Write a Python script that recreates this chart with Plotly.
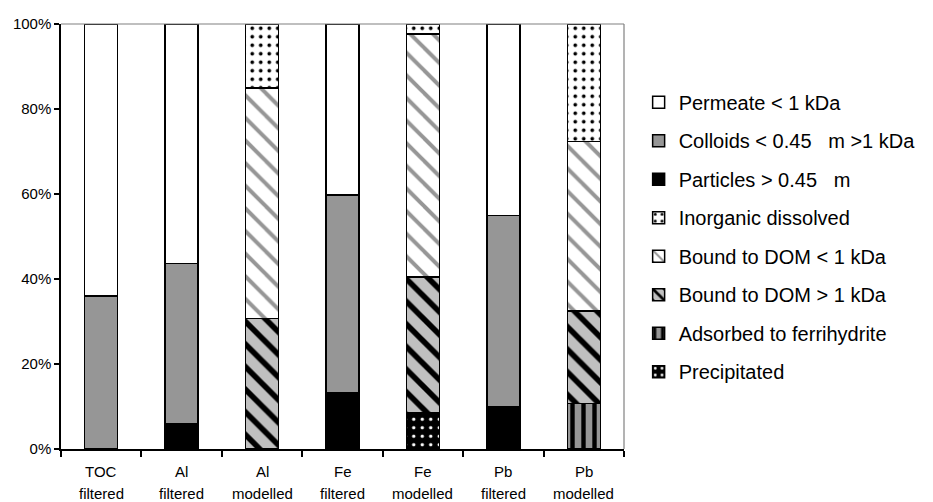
import plotly.graph_objects as go

# ---- data ----
cat_top = ["TOC", "Al", "Al", "Fe", "Fe", "Pb", "Pb"]
cat_bottom = ["filtered", "filtered", "modelled", "filtered", "modelled", "filtered", "modelled"]

permeate = [64.0, 56.3, None, 40.2, None, 45.1, None]
colloids = [36.0, 37.7, None, 46.5, None, 44.9, None]
particles = [None, 6.0, None, 13.3, None, 10.0, None]
inorganic = [None, None, 15.0, None, 2.4, None, 27.7]
dom_lt1 = [None, None, 54.3, None, 57.1, None, 39.8]
dom_gt1 = [None, None, 30.7, None, 31.9, None, 21.8]
adsorbed = [None, None, None, None, None, None, 10.7]
precipitated = [None, None, None, None, 8.6, None, None]

y_ticks = [0, 20, 40, 60, 80, 100]
y_ticktext = ["0%", "20%", "40%", "60%", "80%", "100%"]

x = list(range(len(cat_top)))
FONT = "Liberation Sans, Arial, sans-serif"

GRAY = "#969696"
LGRAY = "#c0c0c0"

# stacking order bottom -> top
series = [
    ("Precipitated", precipitated, dict(shape=".", bgcolor="black", fgcolor="white", size=8.5, solidity=0.13)),
    ("Adsorbed to ferrihydrite", adsorbed, dict(shape="|", bgcolor=GRAY, fgcolor="black", size=11, solidity=0.4)),
    ("Bound to DOM > 1 kDa", dom_gt1, dict(shape="\\", bgcolor=LGRAY, fgcolor="black", size=16, solidity=0.35)),
    ("Bound to DOM < 1 kDa", dom_lt1, dict(shape="\\", bgcolor="white", fgcolor=GRAY, size=16, solidity=0.25)),
    ("Inorganic dissolved", inorganic, dict(shape=".", bgcolor="white", fgcolor="black", size=8.5, solidity=0.15)),
    ("Particles > 0.45   m", particles, dict(shape="", bgcolor="black", fgcolor="black")),
    ("Colloids < 0.45   m >1 kDa", colloids, dict(shape="", bgcolor=GRAY, fgcolor=GRAY)),
    ("Permeate < 1 kDa", permeate, dict(shape="", bgcolor="white", fgcolor="white")),
]

fig = go.Figure()
n = len(series)
for i, (name, vals, pat) in enumerate(series):
    pattern = dict(shape=pat["shape"], fillmode="replace",
                   bgcolor=pat["bgcolor"], fgcolor=pat["fgcolor"])
    if "size" in pat:
        pattern["size"] = pat["size"]
        pattern["solidity"] = pat["solidity"]
    fig.add_trace(go.Bar(
        name=name, x=x, y=vals, width=0.41,
        legendgroup=f"g{i}", legendrank=100 + (n - i),
        marker=dict(color=pat["bgcolor"], line=dict(color="black", width=1.5),
                    pattern=pattern),
        hoverinfo="skip",
    ))

# category labels (two rows)
for xi, (t, b) in enumerate(zip(cat_top, cat_bottom)):
    fig.add_annotation(x=xi, y=-0.054, xref="x", yref="paper", text=t, showarrow=False,
                       yanchor="middle", font=dict(family=FONT, size=15, color="black"))
    fig.add_annotation(x=xi, y=-0.104, xref="x", yref="paper", text=b, showarrow=False,
                       yanchor="middle", borderpad=0,
                       font=dict(family=FONT, size=15, color="black"))

# gray plot-area border (top and right)
fig.add_shape(type="line", xref="paper", yref="paper", x0=0, x1=1, y0=1, y1=1,
              line=dict(color="#808080", width=1.2))
fig.add_shape(type="line", xref="paper", yref="paper", x0=1, x1=1, y0=0, y1=1,
              line=dict(color="#808080", width=1.2))

fig.update_layout(
    width=933, height=502,
    barmode="stack",
    plot_bgcolor="white", paper_bgcolor="white",
    margin=dict(l=61, r=305, t=24, b=53),
    font=dict(family=FONT, color="black"),
    showlegend=True,
    legend=dict(traceorder="grouped", x=1.026, xanchor="left", y=0.862, yanchor="top",
                font=dict(family=FONT, size=20, color="black"),
                tracegroupgap=9.5, bgcolor="rgba(0,0,0,0)", borderwidth=0),
    xaxis=dict(range=[-0.5, 6.5], tickvals=[v - 0.5 for v in range(8)],
               ticktext=[""] * 8, ticks="outside", ticklen=6, tickwidth=1.5,
               tickcolor="black", showline=True, linecolor="black", linewidth=1.5,
               showgrid=False, zeroline=False, fixedrange=True),
    yaxis=dict(range=[0, 100], tickvals=y_ticks, ticktext=y_ticktext,
               ticks="outside", ticklen=5, tickwidth=1.5, tickcolor="black",
               showline=True, linecolor="black", linewidth=1.5,
               showgrid=False, zeroline=False,
               tickfont=dict(family=FONT, size=15, color="black")),
)

fig.write_html("out.html")
